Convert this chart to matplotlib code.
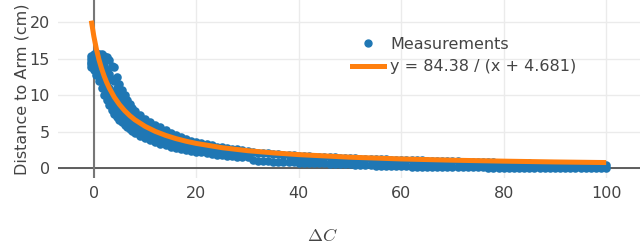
import matplotlib
matplotlib.use('Agg')
import matplotlib.pyplot as plt
from matplotlib.lines import Line2D

# Measurements, near region (dense, steep part): x with five levels across the band
near_x = [-0.5, 0, 0.5, 1, 1.5, 2, 2.5, 3, 3.5, 4, 4.5, 5, 5.5, 6, 6.5, 7, 7.5, 8, 9, 10,
          11, 12, 13, 14, 15, 16, 17, 18, 19, 20, 21, 22, 23, 24, 25, 26, 27, 28, 29, 30]
near_lo = [13.8, 13.5, 12.8, 12.0, 11.0, 10.0, 9.3, 8.6, 8.0, 7.5, 7.0, 6.6, 6.3, 6.0, 5.7, 5.4, 5.1, 4.9, 4.5, 4.2,
           3.9, 3.6, 3.4, 3.2, 3.0, 2.8, 2.7, 2.5, 2.4, 2.3, 2.2, 2.1, 2.0, 1.9, 1.8, 1.7, 1.65, 1.6, 1.55, 1.5]
near_q1 = [14.2, 14.0, 13.5, 12.9, 12.1, 11.2, 10.5, 9.8, 9.2, 8.7, 8.2, 7.6, 7.2, 6.9, 6.5, 6.2, 5.8, 5.6, 5.1, 4.8,
           4.4, 4.1, 3.9, 3.6, 3.4, 3.2, 3.0, 2.8, 2.7, 2.6, 2.5, 2.4, 2.3, 2.2, 2.1, 2.0, 1.9, 1.85, 1.8, 1.75]
near_mid = [14.6, 14.5, 14.2, 13.8, 13.2, 12.5, 11.8, 11.0, 10.5, 10.0, 9.4, 8.6, 8.2, 7.8, 7.4, 7.0, 6.6, 6.3, 5.8, 5.4,
            5.0, 4.7, 4.4, 4.1, 3.9, 3.6, 3.4, 3.2, 3.1, 2.9, 2.8, 2.7, 2.6, 2.5, 2.4, 2.3, 2.2, 2.1, 2.05, 2.0]
near_q3 = [15.0, 15.0, 15.0, 14.7, 14.4, 14.0, 13.5, 12.9, 12.2, 11.9, 11.0, 10.0, 9.4, 8.9, 8.4, 7.9, 7.4, 7.1, 6.5, 6.1,
           5.7, 5.3, 5.0, 4.6, 4.4, 4.1, 3.8, 3.6, 3.4, 3.25, 3.1, 3.0, 2.9, 2.75, 2.65, 2.55, 2.45, 2.35, 2.3, 2.2]
near_hi = [15.4, 15.6, 15.7, 15.6, 15.6, 15.4, 15.2, 14.8, 14.0, 13.8, 12.5, 11.5, 10.7, 10.0, 9.4, 8.8, 8.3, 7.9, 7.3, 6.8,
           6.4, 6.0, 5.6, 5.2, 4.9, 4.6, 4.3, 4.0, 3.8, 3.6, 3.45, 3.3, 3.15, 3.0, 2.9, 2.8, 2.7, 2.6, 2.5, 2.4]

# Measurements, far region: x with low / high of the band
far_x = list(range(31, 101))
far_hi = [2.2, 2.15, 2.1, 2.05, 2.0, 1.95, 1.9, 1.85, 1.8, 1.75,
          1.7, 1.67, 1.63, 1.6, 1.56, 1.53, 1.5, 1.46, 1.43, 1.4,
          1.38, 1.35, 1.33, 1.3, 1.28, 1.26, 1.24, 1.22, 1.2, 1.18,
          1.16, 1.14, 1.12, 1.1, 1.08, 1.06, 1.04, 1.02, 1.0, 0.98,
          0.96, 0.94, 0.92, 0.9, 0.88, 0.86, 0.84, 0.82, 0.8, 0.78,
          0.76, 0.74, 0.72, 0.7, 0.68, 0.66, 0.64, 0.62, 0.6, 0.58,
          0.56, 0.55, 0.54, 0.53, 0.52, 0.5, 0.48, 0.46, 0.44, 0.42]
far_lo = [1.1, 1.05, 1.0, 0.98, 0.95, 0.9, 0.88, 0.85, 0.82, 0.8,
          0.78, 0.75, 0.72, 0.7, 0.68, 0.65, 0.62, 0.6, 0.58, 0.55,
          0.5, 0.48, 0.45, 0.42, 0.4, 0.38, 0.35, 0.33, 0.3, 0.28,
          0.27, 0.26, 0.25, 0.24, 0.23, 0.22, 0.21, 0.2, 0.19, 0.18,
          0.17, 0.16, 0.15, 0.15, 0.14, 0.14, 0.13, 0.13, 0.12, 0.12,
          0.11, 0.11, 0.1, 0.1, 0.1, 0.09, 0.09, 0.09, 0.08, 0.08,
          0.08, 0.07, 0.07, 0.07, 0.06, 0.06, 0.06, 0.05, 0.05, 0.05]

# Fitted curve y = 84.38 / (x + 4.681), values read at these x
fit_x = [-0.5, 0, 0.5, 1, 1.5, 2, 2.5, 3, 4, 5, 6, 7, 8, 10, 12, 14, 16, 18, 20,
         25, 30, 35, 40, 50, 60, 70, 80, 90, 100]
fit_y = [20.18, 18.03, 16.29, 14.85, 13.65, 12.63, 11.75, 10.99, 9.72, 8.72, 7.90, 7.22, 6.65,
         5.75, 5.06, 4.52, 4.08, 3.72, 3.42, 2.84, 2.43, 2.13, 1.89, 1.54, 1.30, 1.13,
         1.00, 0.89, 0.81]

x_ticks = [0, 20, 40, 60, 80, 100]
y_ticks = [0, 5, 10, 15, 20]

blue = '#1f77b4'
orange = '#ff7f0e'
txt = '#444444'

plt.rcParams['mathtext.fontset'] = 'cm'
plt.rcParams['font.family'] = 'DejaVu Sans'

fig = plt.figure(figsize=(6.4, 2.46), dpi=100)
ax = fig.add_axes([58 / 640, 68 / 246, 582 / 640, 178 / 246])

mx = near_x * 5 + far_x * 2
my = near_lo + near_q1 + near_mid + near_q3 + near_hi + far_lo + far_hi
ax.scatter(mx, my, s=38, color=blue, linewidths=0, zorder=3)
ax.plot(fit_x, fit_y, color=orange, linewidth=3.6, solid_capstyle='butt', zorder=4)

ax.set_xlim(-7.0, 106.6)
ax.set_ylim(-1.3, 23.0)
ax.set_xticks(x_ticks)
ax.set_yticks(y_ticks)
ax.grid(True, color='#ebebeb', linewidth=1)
ax.set_axisbelow(True)
ax.axhline(0, color='#444444', linewidth=1.2, zorder=2)
ax.axvline(0, color='#777777', linewidth=1.5, zorder=2)
for s in ax.spines.values():
    s.set_visible(False)
ax.tick_params(length=0, labelsize=11.5, labelcolor=txt, pad=6)

ax.set_ylabel('Distance to Arm (cm)', fontsize=11.5, color=txt, labelpad=0)
fig.text(322 / 640, 10 / 246, r'$\Delta C$', fontsize=13, color=txt, ha='center', va='center')

handles = [Line2D([], [], marker='o', linestyle='none', color=blue, markersize=5),
           Line2D([], [], color=orange, linewidth=3.6)]
ax.legend(handles, ['Measurements', 'y = 84.38 / (x + 4.681)'],
          loc='upper left', bbox_to_anchor=(352 / 640, 1 - 37 / 246),
          bbox_transform=fig.transFigure, frameon=False, fontsize=11.5,
          labelcolor=txt, handlelength=2.0, handletextpad=0.4, labelspacing=0.45,
          borderaxespad=0, borderpad=0)

fig.savefig('out.png', dpi=100)
